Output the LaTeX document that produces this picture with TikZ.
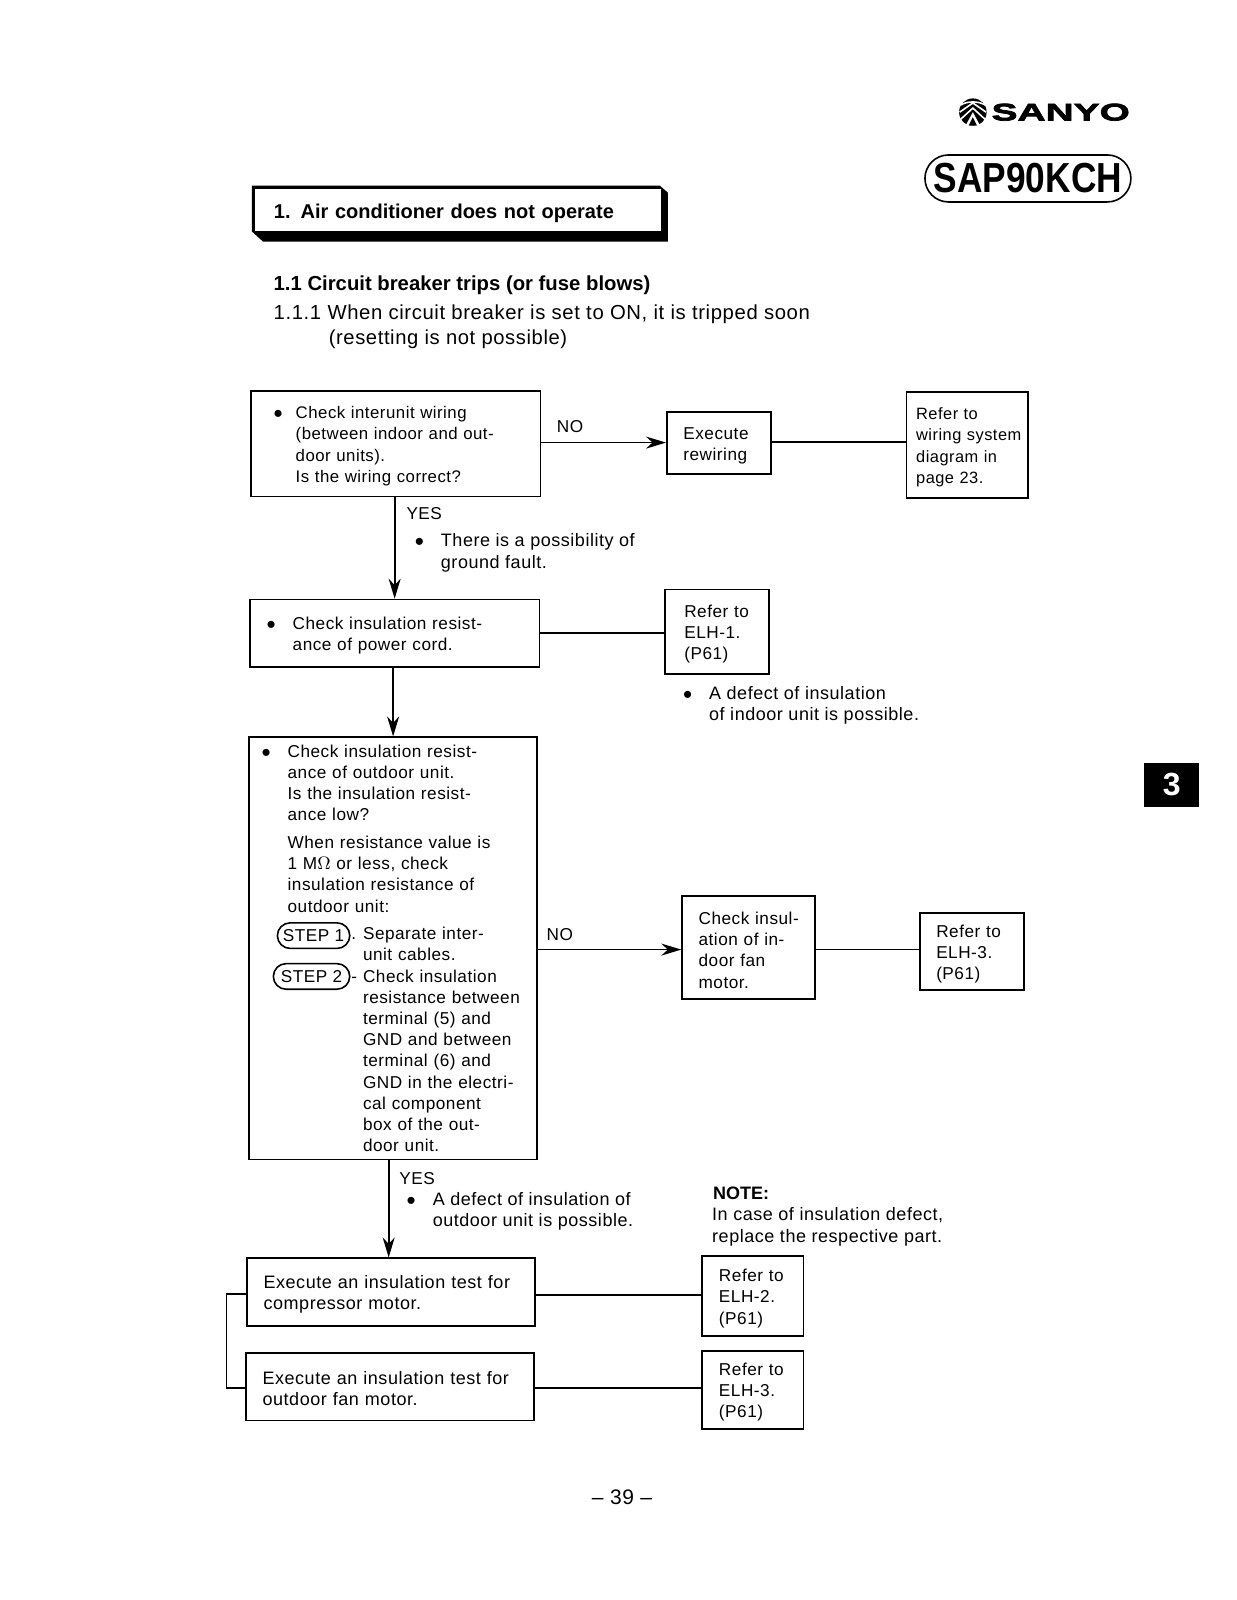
\documentclass[tikz,border=0pt]{standalone}
\usepackage{fontspec}
\setmainfont[LetterSpace=3,BoldFeatures={LetterSpace=0}]{Liberation Sans}
\newfontfamily\logofont[FakeStretch=1.62,FakeBold=3]{Liberation Sans}
\newfontfamily\modelfont[FakeStretch=0.84]{Liberation Sans}
\usepackage{tikz}
\usetikzlibrary{arrows.meta,shapes.misc,positioning}
\newcommand{\bul}[1][8.5pt]{\llap{\raisebox{-1.9pt}{\fontsize{13}{13}\selectfont\textbullet}\hspace{#1}}}
\tikzset{
  plain/.style={font=\fontsize{8.6}{10.6}\selectfont,inner sep=0pt,align=left},
  notetext/.style={plain,anchor=base west,font=\fontsize{9}{10.6}\selectfont},
  flowbox/.style={plain,draw,line width=0.9pt},
  indent/.style={execute at begin node={\leftskip=#1\relax\leavevmode\rule{0pt}{8.6pt}}},
  tightindent/.style={execute at begin node={\leftskip=#1\relax}},
  steppill/.style={rounded rectangle,draw,line width=0.8pt,inner sep=0pt,minimum height=12.8pt,font=\fontsize{8.6}{10}\selectfont},
  flowline/.style={line width=0.9pt},
  flowarrow/.style={line width=0.9pt,-{Stealth[length=10pt,width=6pt]}}
}
\begin{document}
\begin{tikzpicture}[x=0.51pt,y=-0.51pt,line join=miter]
\useasboundingbox (0,0) rectangle (1213,1569);
% logo
\fill (954,110) circle (13.5);
\begin{scope}[white,line width=0.8pt]
\draw (942,103) .. controls (948,99) and (960,99) .. (966,103);
\draw (941,110) -- (954,101) -- (967,110);
\draw (942,117) -- (954,106) -- (966,117);
\fill (954,110) -- (947,123) -- (961,123) -- cycle;
\end{scope}
\fill (954,115) -- (950,123) -- (958,123) -- cycle;
\node[anchor=west,inner sep=0pt,font=\logofont\bfseries\fontsize{12}{12}\selectfont] (brand) at (972,110) {SANYO};
\node[rounded rectangle,draw,line width=0.8pt,minimum width=103pt,minimum height=23.5pt,inner sep=0pt,font=\modelfont\bfseries\fontsize{21}{21}\selectfont] (model) at (1008,175) {SAP90KCH};
% heading
\fill (247,182) -- (647,182) -- (655,189) -- (655,237) -- (258,237) -- (247,227) -- cycle;
\node[plain,fill=white,tightindent=9.5pt,text width=203pt,minimum height=21pt,font=\bfseries\fontsize{10}{12}\selectfont] (title) at (449,206) {\rule{0pt}{10.2pt}1. Air conditioner does not operate};
\node[plain,anchor=base west,font=\bfseries\fontsize{10.15}{12}\selectfont] (sect) at (268,285) {1.1 Circuit breaker trips (or fuse blows)};
\node[plain,anchor=base west,font=\fontsize{10.15}{12}\selectfont] (subsect) at (268,313) {1.1.1 When circuit breaker is set to ON, it is tripped soon};
\node[plain,anchor=base west,font=\fontsize{10.1}{12}\selectfont] (subsectb) at (322,338) {(resetting is not possible)};
% boxes
\node[flowbox,text width=144.8pt,minimum height=53pt,indent=22.4pt,font=\fontsize{8.4}{10.6}\selectfont] (chkwiring) at (388,435)
  {\bul[6.5pt]Check interunit wiring\\(between indoor and out-\\door units).\\Is the wiring correct?};
\node[flowbox,text width=52pt,minimum height=31.1pt,indent=8.2pt] (rewiring) at (705,434.5)
  {Execute\\rewiring};
\node[flowbox,text width=60.7pt,minimum height=53pt,indent=4.8pt,font=\fontsize{8.2}{10.6}\selectfont] (refwire) at (948.5,436)
  {Refer to\\wiring system\\diagram in\\page 23.};
\node[flowbox,text width=144.8pt,minimum height=33.7pt,indent=21.4pt] (chkcord) at (387,621)
  {\bul Check insulation resist-\\ance of power cord.};
\node[flowbox,text width=52pt,minimum height=42.3pt,indent=9.7pt] (elhone) at (703,619.5)
  {Refer to\\ELH-1.\\(P61)};
\node[flowbox,text width=144.3pt,minimum height=211.1pt,tightindent=19.4pt] (chkout) at (385.5,930)
  {\bul Check insulation resist-\\ance of outdoor unit.\\Is the insulation resist-\\ance low?\\[3.2pt]
   When resistance value is\\1 M$\Omega$ or less, check\\insulation resistance of\\outdoor unit:\\[3.2pt]
   \hspace*{37.7pt}\llap{.\hspace{3.5pt}}Separate inter-\\\hspace*{37.7pt}unit cables.\\
   \hspace*{37.7pt}\llap{-\hspace{3pt}}Check insulation\\\hspace*{37.7pt}resistance between\\
   \hspace*{37.7pt}terminal (5) and\\\hspace*{37.7pt}GND and between\\\hspace*{37.7pt}terminal (6) and\\
   \hspace*{37.7pt}GND in the electri-\\\hspace*{37.7pt}cal component\\\hspace*{37.7pt}box of the out-\\\hspace*{37.7pt}door unit.};
\node[steppill,minimum width=36.2pt] (stepone) at (307.5,917.5) {STEP 1};
\node[steppill,minimum width=38.2pt] (steptwo) at (305.5,957.5) {STEP 2};
\node[flowbox,text width=66.3pt,minimum height=51.5pt,indent=8.2pt] (chkfan) at (734,929.5)
  {Check insul-\\ation of in-\\door fan\\motor.};
\node[flowbox,text width=52pt,minimum height=38.8pt,indent=8.2pt] (elhthree) at (953,933)
  {Refer to\\ELH-3.\\(P61)};
\node[flowbox,text width=144.3pt,minimum height=33.7pt,indent=8.4pt,font=\fontsize{9}{10.6}\selectfont] (comptest) at (383.5,1267)
  {Execute an insulation test for\\compressor motor.};
\node[flowbox,text width=51pt,minimum height=39.8pt,indent=8.7pt] (elhtwo) at (738,1271)
  {Refer to\\ELH-2.\\(P61)};
\node[flowbox,text width=144.3pt,minimum height=33.7pt,indent=8.4pt,font=\fontsize{9}{10.6}\selectfont] (fantest) at (382.5,1360)
  {Execute an insulation test for\\outdoor fan motor.};
\node[flowbox,text width=51pt,minimum height=38.8pt,indent=8.7pt] (elhthreeb) at (738,1363)
  {Refer to\\ELH-3.\\(P61)};
% labels
\node[plain] (nowiring) at (559,418) {NO};
\node[plain] (yeswiring) at (416,504) {YES};
\node[notetext] (notefault) at (432,557) {\bul There is a possibility of\\ground fault.};
\node[notetext] (noteindoor) at (695,707) {\bul A defect of insulation\\of indoor unit is possible.};
\node[plain] (noout) at (549,916) {NO};
\node[plain] (yesout) at (409,1156) {YES};
\node[notetext] (noteoutdoor) at (424,1203) {\bul A defect of insulation of\\outdoor unit is possible.};
\node[notetext] (notehead) at (699,1176) {\textbf{NOTE:}};
\node[notetext] (notebody) at (698,1218) {In case of insulation defect,\\replace the respective part.};
\node[fill=black,text=white,minimum width=27.5pt,minimum height=22pt,inner sep=0pt,font=\bfseries\fontsize{16}{16}\selectfont] (tabthree) at (1149,769.5) {3};
\node[font=\fontsize{10.5}{12}\selectfont,inner sep=0pt] (pageno) at (610,1468) {-- 39 --};
% connectors
\draw[flowarrow] ([yshift=0.5pt]chkwiring.east) -- ([yshift=0.5pt]chkwiring.east -| rewiring.west);
\draw[flowline] ([yshift=0.5pt]rewiring.east) -- ([yshift=0.5pt]rewiring.east -| refwire.west);
\draw[flowarrow] (chkwiring.south -| chkcord.north) -- (chkcord.north);
\draw[flowline] (chkcord.east) -- (chkcord.east -| elhone.west);
\draw[flowarrow] (chkcord.south -| chkout.north) -- (chkout.north);
\draw[flowarrow] ([yshift=-0.6pt]chkout.east) -- ([yshift=-0.6pt]chkout.east -| chkfan.west);
\draw[flowline] ([yshift=-0.8pt]chkfan.east) -- ([yshift=-0.8pt]chkfan.east -| elhthree.west);
\draw[flowarrow] ([xshift=-1.2pt]chkout.south -| comptest.north) -- ([xshift=-1.2pt]comptest.north);
\draw[flowline] ([yshift=-1.5pt]comptest.east) -- ([yshift=-1.5pt]comptest.east -| elhtwo.west);
\draw[flowline] ([yshift=-0.5pt]fantest.east) -- ([yshift=-0.5pt]fantest.east -| elhthreeb.west);
\draw[flowline] ([yshift=-1pt]comptest.west) -- ++(-19,0) |- ([yshift=-0.5pt]fantest.west);
\end{tikzpicture}
\end{document}
